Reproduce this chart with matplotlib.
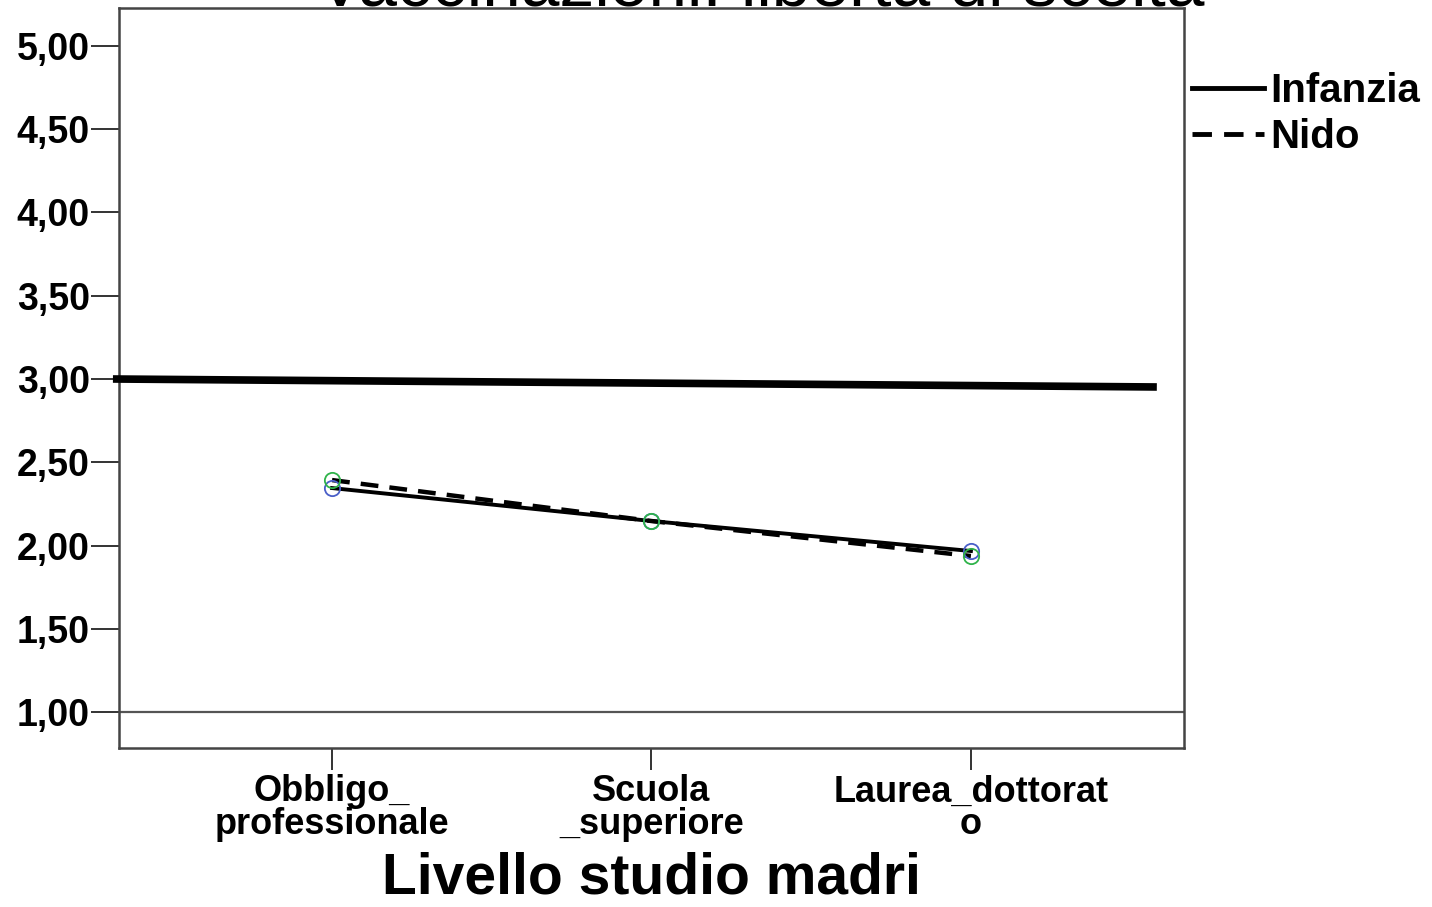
import matplotlib.pyplot as plt
from matplotlib.ticker import FixedLocator, FuncFormatter

plt.rcParams['font.family'] = ['Liberation Sans', 'DejaVu Sans']

TITLE = "Vaccinazioni: libertà di scelta"
X_LABEL = "Livello studio madri"

categories = ["Obbligo_\nprofessionale", "Scuola\n_superiore", "Laurea_dottorat\no"]
infanzia = [2.345, 2.147, 1.967]
nido = [2.393, 2.147, 1.937]

# thick reference line drawn across the plot (x in category units)
ref_x = [-0.686, 2.582]
ref_y = [3.00, 2.952]

y_ticks = [1.0, 1.5, 2.0, 2.5, 3.0, 3.5, 4.0, 4.5, 5.0]

fig = plt.figure(figsize=(14.32, 9.07), dpi=100)
ax = fig.add_axes([0.0831, 0.1753, 0.7437, 0.8159])

x = list(range(len(categories)))

ax.axhline(1.0, color="#555555", lw=1.6, zorder=1)
ax.plot(ref_x, ref_y, color="black", lw=5.5, solid_capstyle="butt", clip_on=False, zorder=3)

ax.plot(x, infanzia, color="black", lw=2.8, label="Infanzia", zorder=4)
ax.plot(x, nido, color="black", lw=3.2, ls=(0, (4, 2.5)), label="Nido", zorder=4)
ax.plot(x, infanzia, ls="none", marker="o", ms=11, mfc="none", mec="#4a5fc8", mew=1.3, zorder=5)
ax.plot(x, nido, ls="none", marker="o", ms=11, mfc="none", mec="#2fb34a", mew=1.3, zorder=5)

ax.set_xlim(-0.667, 2.667)
ax.set_ylim(0.784, 5.228)

ax.yaxis.set_major_locator(FixedLocator(y_ticks))
ax.yaxis.set_major_formatter(FuncFormatter(lambda v, p: f"{v:.2f}".replace(".", ",")))
ax.set_xticks(x)
ax.set_xticklabels(categories, linespacing=0.9)

for s in ax.spines.values():
    s.set_color("#444444")
    s.set_linewidth(1.8)

ax.tick_params(axis="y", length=20, width=1.4, color="#333333", labelsize=27, pad=1)
ax.tick_params(axis="x", length=16, width=1.4, color="#333333", labelsize=26, pad=3)
for lbl in ax.get_xticklabels() + ax.get_yticklabels():
    lbl.set_fontweight("bold")

# x axis title placed in figure coords so it stays inside the canvas
fig.text(0.455, 1 - 893 / 907, X_LABEL, ha="center", va="baseline",
         fontsize=41, fontweight="bold")

fig.text(0.531, 1 - 6 / 907, TITLE, ha="center", va="baseline", fontsize=50)

leg = ax.legend(loc="upper left", bbox_to_anchor=(0.992, 0.935), frameon=False,
                handlelength=1.8, handletextpad=0.15, labelspacing=0.2,
                borderaxespad=0, prop={"weight": "bold", "size": 29})
for h in leg.get_lines():
    h.set_linewidth(3.5)

fig.savefig("out.png", dpi=100)
